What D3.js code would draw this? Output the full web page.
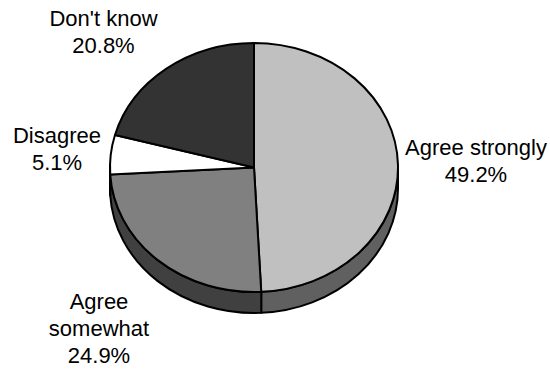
<!DOCTYPE html>
<html>
<head>
<meta charset="utf-8">
<script src="https://cdn.jsdelivr.net/npm/d3@7"></script>
<style>
  html, body { margin: 0; padding: 0; background: #fff; }
  svg { display: block; }
  text { font-family: "Liberation Sans", Arial, sans-serif; font-size: 22px; fill: #000; }
</style>
</head>
<body>
<svg id="chart" width="550" height="373"></svg>
<script>
// ---- data ----
const categories = ["Agree strongly", "Agree somewhat", "Disagree", "Don't know"];
const values = [49.2, 24.9, 5.1, 20.8];
const labelLines = [["Agree strongly", "49.2%"], ["Agree", "somewhat", "24.9%"], ["Disagree", "5.1%"], ["Don't know", "20.8%"]];

// ---- styles / layout ----
const topColors = ["#c0c0c0", "#808080", "#ffffff", "#333333"];
const sideColors = ["#606060", "#404040", "#808080", "#1a1a1a"];
const labelPos = [[476, 155], [99, 309], [57, 143], [103.5, 26]];
const lineH = 27;

const cx = 254, cy = 167.5, rx = 144, ry = 124.5, depth = 21;

const svg = d3.select("#chart");
const pie = d3.pie().sort(null).value(d => d).startAngle(0).endAngle(2 * Math.PI);
const arcs = pie(values);

function P(t, dy) {
  return [cx + rx * Math.sin(t), cy - ry * Math.cos(t) + (dy || 0)];
}

// sides (visible front half: theta in [pi/2, 3pi/2])
const gSide = svg.append("g");
arcs.forEach((a, i) => {
  const s = Math.max(a.startAngle, Math.PI / 2);
  const e = Math.min(a.endAngle, 3 * Math.PI / 2);
  if (e <= s) return;
  const p = d3.path();
  const p0 = P(s), p1 = P(e), p2 = P(e, depth), p3 = P(s, depth);
  const large = (e - s) > Math.PI ? 1 : 0;
  const d = `M${p0[0]},${p0[1]} A${rx},${ry} 0 ${large} 1 ${p1[0]},${p1[1]} L${p2[0]},${p2[1]} A${rx},${ry} 0 ${large} 0 ${p3[0]},${p3[1]} Z`;
  gSide.append("path")
    .attr("d", d)
    .attr("fill", sideColors[i])
    .attr("stroke", "#000")
    .attr("stroke-width", 2)
    .attr("stroke-linejoin", "round");
});

// top faces
const gTop = svg.append("g");
arcs.forEach((a, i) => {
  const p0 = P(a.startAngle), p1 = P(a.endAngle);
  const large = (a.endAngle - a.startAngle) > Math.PI ? 1 : 0;
  const d = `M${cx},${cy} L${p0[0]},${p0[1]} A${rx},${ry} 0 ${large} 1 ${p1[0]},${p1[1]} Z`;
  gTop.append("path")
    .attr("d", d)
    .attr("fill", topColors[i])
    .attr("stroke", "#000")
    .attr("stroke-width", 2)
    .attr("stroke-linejoin", "round");
});

// labels
const gLab = svg.append("g");
labelLines.forEach((lines, i) => {
  const t = gLab.append("text")
    .attr("text-anchor", "middle")
    .attr("x", labelPos[i][0])
    .attr("y", labelPos[i][1]);
  lines.forEach((ln, j) => {
    t.append("tspan").attr("x", labelPos[i][0]).attr("dy", j === 0 ? 0 : lineH).text(ln);
  });
});
</script>
</body>
</html>
